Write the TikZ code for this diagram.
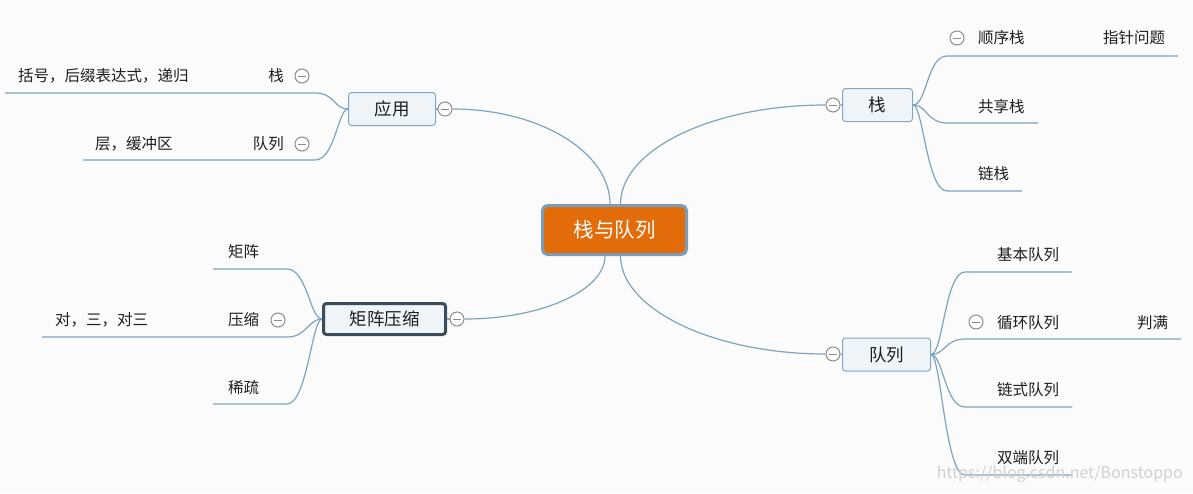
\documentclass[tikz,border=0pt]{standalone}
\usepackage{fontspec}
\setmainfont{Noto Sans CJK SC}
\usetikzlibrary{positioning}

\definecolor{linkblue}{RGB}{127,163,191}
\definecolor{topicfill}{RGB}{238,244,248}
\definecolor{topicline}{RGB}{132,166,194}
\definecolor{hubfill}{RGB}{226,108,10}
\definecolor{hubline}{RGB}{124,157,184}
\definecolor{darkline}{RGB}{60,76,90}
\definecolor{foldgray}{RGB}{140,140,140}
\definecolor{pagebg}{RGB}{251,251,251}
\definecolor{inkgray}{RGB}{30,30,30}

\tikzset{
  hub/.style={draw=hubline, line width=3pt, fill=hubfill, rounded corners=5pt,
    text=white, font=\fontsize{20.5}{24}\selectfont, minimum width=144pt, minimum height=49pt},
  topic/.style={draw=topicline, line width=1pt, fill=topicfill, rounded corners=3pt,
    text=inkgray, font=\fontsize{17.5}{21}\selectfont, minimum height=33pt},
  leaf/.style={text=inkgray, font=\fontsize{15.5}{18}\selectfont, inner sep=0pt},
  link/.style={draw=linkblue, line width=1.2pt},
  fold/.style={circle, draw=foldgray, fill=white, line width=1pt, minimum size=14pt, inner sep=0pt,
    path picture={\draw[foldgray, line width=1pt]
      ([xshift=-4pt]path picture bounding box.center) -- ([xshift=4pt]path picture bounding box.center);}},
}

\begin{document}
\begin{tikzpicture}[x=1pt, y=-1pt]

% Page
\fill[pagebg] (0,0) rectangle (1193,493);
\useasboundingbox (0,0) rectangle (1193,493);

% Hub and main topics
\node[hub] (hub) at (614.5,230) {栈与队列};
\node[topic, minimum width=70pt] (zhan) at (877.5,105) {栈};
\node[topic, minimum width=87pt] (yingyong) at (392,109) {应用};
\node[topic, draw=darkline, line width=3pt, minimum width=122pt, minimum height=31pt] (juzhen) at (384.5,319) {矩阵压缩};
\node[topic, minimum width=88pt] (duilie) at (886.5,354.5) {队列};

% Fold markers of main topics
\node[fold] (fzhan) at (833,105) {};
\node[fold] (fyy) at (445,109) {};
\node[fold] (fjz) at (457,319) {};
\node[fold] (fdl) at (833,354) {};

% Hub connectors
\draw[link] ([xshift=-4.5pt]hub.north) .. controls +(0,-52) and +(87,0) .. (fyy.east);
\draw[link] ([xshift=6pt]hub.north) .. controls +(0,-54) and +(-114,0) .. (fzhan.west);
\draw[link] ([xshift=-9.5pt]hub.south) .. controls +(0,34) and +(78,0) .. (fjz.east);
\draw[link] ([xshift=6pt]hub.south) .. controls +(0,52) and +(-114,0) .. (fdl.west);
\draw[link] (fzhan.east) -- (zhan.west);
\draw[link] (fyy.west) -- (yingyong.east);
\draw[link] (fjz.west) -- (juzhen.east);
\draw[link] (fdl.east) -- (duilie.west);

% Stack branch
\coordinate (sx-a) at (947,56);   \coordinate (sx-b) at (1178,56);
\coordinate (gx-a) at (947,123);  \coordinate (gx-b) at (1038,123);
\coordinate (lz-a) at (947,191);  \coordinate (lz-b) at (1022,191);
\draw[link] (zhan.east) .. controls +(14,0) and +(-20,0) .. (sx-a) -- (sx-b);
\draw[link] (zhan.east) .. controls +(14,0) and +(-20,0) .. (gx-a) -- (gx-b);
\draw[link] (zhan.east) .. controls +(10,0) and +(-20,0) .. (lz-a) -- (lz-b);
\node[fold] (fsx) at (957,38) {};
\node[leaf, anchor=west] (shunxu) at (978,38) {顺序栈};
\node[leaf, anchor=west] (zhizhen) at (1103,38) {指针问题};
\node[leaf, anchor=west] (gongxiang) at (978,107) {共享栈};
\node[leaf, anchor=west] (lianzhan) at (978,174) {链栈};

% Application branch
\coordinate (yz-a) at (315,93);   \coordinate (yz-b) at (5,93);
\coordinate (yd-a) at (315,160);  \coordinate (yd-b) at (83,160);
\draw[link] (yingyong.west) .. controls +(-14,0) and +(20,0) .. (yz-a) -- (yz-b);
\draw[link] (yingyong.west) .. controls +(-10,0) and +(20,0) .. (yd-a) -- (yd-b);
\node[fold] (fyz) at (302,76) {};
\node[fold] (fyd) at (302,144) {};
\node[leaf, anchor=east] (yzhan) at (284,76) {栈};
\node[leaf, anchor=west] (kuohao) at (18,76) {括号，后缀表达式，递归};
\node[leaf, anchor=east] (ydui) at (284,144) {队列};
\node[leaf, anchor=west] (ceng) at (95,144) {层，缓冲区};

% Matrix branch
\coordinate (jm-a) at (287,269);  \coordinate (jm-b) at (213,269);
\coordinate (jy-a) at (287,337);  \coordinate (jy-b) at (42,337);
\coordinate (jx-a) at (287,404);  \coordinate (jx-b) at (213,404);
\draw[link] (juzhen.west) .. controls +(-12,0) and +(20,0) .. (jm-a) -- (jm-b);
\draw[link] (juzhen.west) .. controls +(-14,0) and +(20,0) .. (jy-a) -- (jy-b);
\draw[link] (juzhen.west) .. controls +(-10,0) and +(20,0) .. (jx-a) -- (jx-b);
\node[fold] (fjy) at (278,320) {};
\node[leaf, anchor=west] (jzm) at (228,252) {矩阵};
\node[leaf, anchor=west] (yasuo) at (228,320) {压缩};
\node[leaf, anchor=west] (duisan) at (55,320) {对，三，对三};
\node[leaf, anchor=west] (xishu) at (228,388) {稀疏};

% Queue branch
\coordinate (jb-a) at (965,272);  \coordinate (jb-b) at (1072,272);
\coordinate (xh-a) at (965,339);  \coordinate (xh-b) at (1181,339);
\coordinate (ls-a) at (965,407);  \coordinate (ls-b) at (1072,407);
\coordinate (sd-a) at (965,475);  \coordinate (sd-b) at (1072,475);
\draw[link] (duilie.east) .. controls +(12,0) and +(-20,0) .. (jb-a) -- (jb-b);
\draw[link] (duilie.east) .. controls +(14,0) and +(-20,0) .. (xh-a) -- (xh-b);
\draw[link] (duilie.east) .. controls +(12,0) and +(-20,0) .. (ls-a) -- (ls-b);
\draw[link] (duilie.east) .. controls +(10,0) and +(-20,0) .. (sd-a) -- (sd-b);
\node[fold] (fxh) at (976,322) {};
\node[leaf, anchor=west] (jiben) at (997,255) {基本队列};
\node[leaf, anchor=west] (xunhuan) at (997,323) {循环队列};
\node[leaf, anchor=west] (panman) at (1137,323) {判满};
\node[leaf, anchor=west] (lianshi) at (997,390) {链式队列};
\node[leaf, anchor=west] (shuangduan) at (997,458) {双端队列};

% Watermark
\node[text=black!18, font=\fontsize{16}{18}\selectfont, anchor=east, inner sep=0pt] (mark) at (1183,474) {https://blog.csdn.net/Bonstoppo};

\end{tikzpicture}
\end{document}
